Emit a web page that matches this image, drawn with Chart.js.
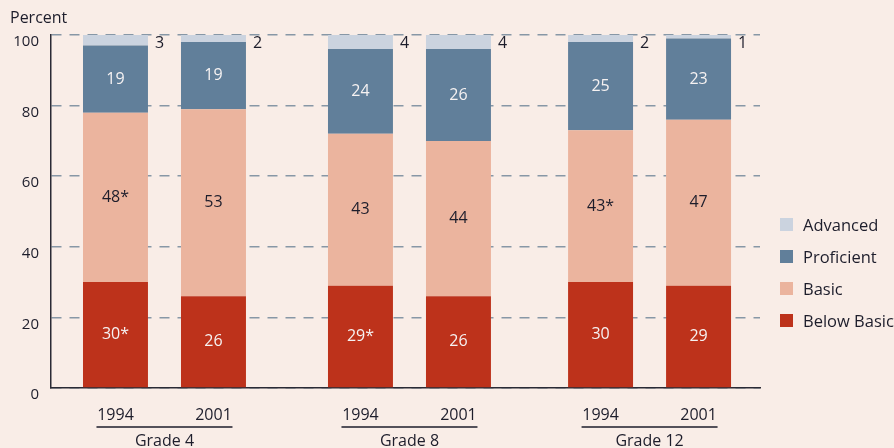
<!DOCTYPE html>
<html>
<head>
<meta charset="utf-8">
<script src="https://cdn.jsdelivr.net/npm/chart.js@4.4.0/dist/chart.umd.min.js"></script>
<style>
  body { margin: 0; background: #F9EDE7; }
  #contenedor { position: relative; width: 894px; height: 448px; background: #F9EDE7; }
  #titulo { position: absolute; left: 10px; top: 6px; font: 16px "Open Sans"; color: #1d1d2b; }
  #leyenda { position: absolute; left: 780px; top: 208px; font: 16.5px "Open Sans"; color: #1d1d2b; }
  .item { height: 32px; display: flex; align-items: center; white-space: nowrap; }
  .caja { width: 13px; height: 13px; margin-right: 10px; }
</style>
</head>
<body>
<div id="contenedor">
  <canvas id="grafica"></canvas>
  <div id="titulo">Percent</div>
  <div id="leyenda"></div>
</div>
<script>
const grados = ["Grade 4", "Grade 8", "Grade 12"];
const anios = ["1994", "2001", "1994", "2001", "1994", "2001"];
const belowBasic = [30, 26, 29, 26, 30, 29];
const basic = [48, 53, 43, 44, 43, 47];
const proficient = [19, 19, 24, 26, 25, 23];
const advanced = [3, 2, 4, 4, 2, 1];
const etiqBelowBasic = ["30*", "26", "29*", "26", "30", "29"];
const etiqBasic = ["48*", "53", "43", "44", "43*", "47"];
const etiqProficient = ["19", "19", "24", "26", "25", "23"];
const etiqAdvanced = ["3", "2", "4", "4", "2", "1"];
const yTicks = [0, 20, 40, 60, 80, 100];

// posiciones de las barras en el eje x (grupos separados)
const posX = [0, 1, 2.5, 3.5, 4.95, 5.95];

const colores = {
    advanced: "#CBD3DF",
    proficient: "#617F9A",
    basic: "#EBB49E",
    belowBasic: "#BD321B",
};
const fuente = '"Open Sans"';
const texto = "#1d1d2b";

const puntos = (valores) => valores.map((v, i) => ({ x: posX[i], y: v }));

const datasets = [
    { label: "Below Basic", data: puntos(belowBasic), backgroundColor: colores.belowBasic, etiquetas: etiqBelowBasic, colorEtiq: "#F6F2F2" },
    { label: "Basic", data: puntos(basic), backgroundColor: colores.basic, etiquetas: etiqBasic, colorEtiq: texto },
    { label: "Proficient", data: puntos(proficient), backgroundColor: colores.proficient, etiquetas: etiqProficient, colorEtiq: "#F6F2F2" },
    { label: "Advanced", data: puntos(advanced), backgroundColor: colores.advanced, etiquetas: etiqAdvanced, afuera: true },
];

// leyenda en html
const leyenda = document.querySelector("#leyenda");
let template = "";
[...datasets].reverse().forEach((d) => {
    template += `<div class="item"><span class="caja" style="background:${d.backgroundColor}"></span>${d.label}</div>`;
});
leyenda.innerHTML = template;

const etiquetasPlugin = {
    id: "etiquetas",
    afterDatasetsDraw(chart) {
        const ctx = chart.ctx;
        ctx.save();
        ctx.font = `16px ${fuente}`;
        ctx.textBaseline = "middle";
        chart.data.datasets.forEach((d, di) => {
            const meta = chart.getDatasetMeta(di);
            meta.data.forEach((el, i) => {
                if (d.afuera) {
                    ctx.fillStyle = texto;
                    ctx.textAlign = "left";
                    ctx.fillText(d.etiquetas[i], el.x + el.width / 2 + 7, chart.chartArea.top + 8);
                } else {
                    ctx.fillStyle = d.colorEtiq;
                    ctx.textAlign = "center";
                    ctx.fillText(d.etiquetas[i], el.x, (el.y + el.base) / 2);
                }
            });
        });
        // nombres de grado con su linea
        const xs = chart.scales.x;
        ctx.fillStyle = texto;
        ctx.strokeStyle = texto;
        ctx.lineWidth = 1.5;
        ctx.textAlign = "center";
        grados.forEach((g, gi) => {
            const c = (xs.getPixelForValue(posX[gi * 2]) + xs.getPixelForValue(posX[gi * 2 + 1])) / 2;
            ctx.beginPath();
            ctx.moveTo(c - 68, 427);
            ctx.lineTo(c + 68, 427);
            ctx.stroke();
            ctx.fillText(g, c, 441);
        });
        ctx.restore();
    },
};

const miGrafica = new Chart("grafica", {
    type: "bar",
    data: { datasets: datasets },
    options: {
        responsive: true,
        maintainAspectRatio: false,
        animation: false,
        layout: { padding: { top: 35, right: 134, left: 0, bottom: 0 } },
        datasets: { bar: { barPercentage: 0.663, categoryPercentage: 1, borderWidth: 0 } },
        plugins: { legend: { display: false }, tooltip: { enabled: false } },
        scales: {
            x: {
                type: "linear",
                stacked: true,
                offset: false,
                min: -0.658,
                max: 6.577,
                grid: { display: false },
                border: { display: true, color: "#2a2a35", width: 1.5 },
                afterBuildTicks: (s) => { s.ticks = posX.map((v) => ({ value: v })); },
                afterFit: (s) => { s.height = 60; },
                ticks: {
                    autoSkip: false,
                    maxRotation: 0,
                    padding: 10,
                    color: texto,
                    font: { family: fuente, size: 16 },
                    callback: (v, i) => anios[i],
                },
            },
            y: {
                stacked: true,
                min: 0,
                max: 100,
                afterBuildTicks: (s) => { s.ticks = yTicks.map((v) => ({ value: v })); },
                afterFit: (s) => { s.width = 51; },
                grid: { color: "#8797A6", lineWidth: 1.5, drawTicks: false },
                border: { display: true, color: "#2a2a35", width: 1.5, dash: [10, 8] },
                ticks: {
                    padding: 12,
                    labelOffset: 7,
                    color: texto,
                    font: { family: fuente, size: 15 },
                },
            },
        },
    },
    plugins: [etiquetasPlugin],
});
</script>
</body>
</html>
